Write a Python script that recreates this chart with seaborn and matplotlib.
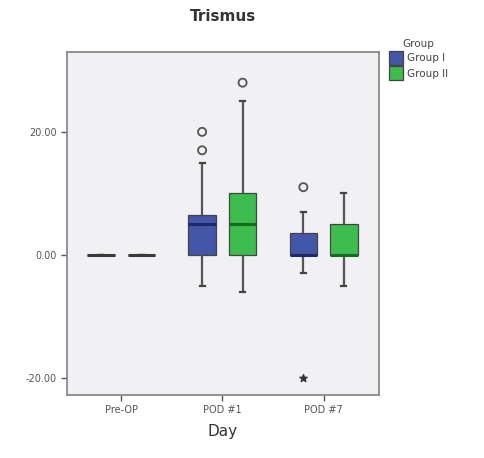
import numpy as np
import pandas as pd
import matplotlib
matplotlib.use("Agg")
import matplotlib.pyplot as plt
import seaborn as sns

days = ["Pre-OP", "POD #1", "POD #7"]
groups = ["Group I", "Group II"]

g1_preop = [0] * 21
g2_preop = [0] * 21
g1_pod1 = [-5, -2, 0, 0, 0, 0, 2, 3, 4, 5, 5, 5, 5, 6, 6, 6.5, 7, 10, 15, 17, 20]
g2_pod1 = [-6, -3, 0, 0, 0, 0, 2, 3, 4, 5, 5, 5, 5, 7, 8, 10, 12, 15, 20, 25, 28]
g1_pod7 = [-20, -3, 0, 0, 0, 0, 0, 0, 0, 0, 0, 1, 2, 2, 3, 3.5, 4, 5, 6, 7, 11]
g2_pod7 = [-5, -3, 0, 0, 0, 0, 0, 0, 0, 0, 0, 1, 2, 3, 4, 5, 5, 6, 8, 9, 10]

yticks = [-20, 0, 20]
ytick_labels = ["-20.00", "0.00", "20.00"]

series = {
    ("Pre-OP", "Group I"): g1_preop, ("Pre-OP", "Group II"): g2_preop,
    ("POD #1", "Group I"): g1_pod1, ("POD #1", "Group II"): g2_pod1,
    ("POD #7", "Group I"): g1_pod7, ("POD #7", "Group II"): g2_pod7,
}
rows = []
for (d, g), vals in series.items():
    for v in vals:
        rows.append({"Day": d, "Group": g, "Trismus": v})
df = pd.DataFrame(rows)

colors = {"Group I": "#4356a8", "Group II": "#3dbd4d"}
median_colors = {"Group I": "#1d2a66", "Group II": "#156b22"}

fig = plt.figure(figsize=(4.85, 4.58), dpi=100)
ax = fig.add_axes([0.138, 0.1376, 0.643, 0.749])
ax.set_facecolor("#f1f0f2")

sns.boxplot(data=df, x="Day", y="Trismus", hue="Group", order=days,
            hue_order=groups, palette=colors, width=0.8, gap=0.32,
            showfliers=False, linecolor="#444444", linewidth=0.9,
            whis=1.5, saturation=1, ax=ax, capwidths=0.05,
            whiskerprops={"color": "#555555", "linewidth": 1.6},
            capprops={"color": "#444444", "linewidth": 1.6},
            medianprops={"linewidth": 2.2},
            legend=True)

for cont, g in zip(ax.containers, groups):
    for d, m in zip(days, cont.medians):
        v = np.array(series[(d, g)], dtype=float)
        q1, q3 = np.percentile(v, [25, 75])
        m.set_color(median_colors[g] if q3 > q1 else "#3a3a3a")

# outliers / extremes
offsets = {"Group I": -0.2, "Group II": 0.2}
for i, d in enumerate(days):
    for g in groups:
        v = np.array(series[(d, g)], dtype=float)
        q1, q3 = np.percentile(v, [25, 75])
        iqr = q3 - q1
        if iqr == 0:
            continue
        out = v[((v > q3 + 1.5 * iqr) & (v <= q3 + 3 * iqr)) | ((v < q1 - 1.5 * iqr) & (v >= q1 - 3 * iqr))]
        ext = v[(v > q3 + 3 * iqr) | (v < q1 - 3 * iqr)]
        ax.scatter(np.full(len(out), i + offsets[g]), out, s=34, facecolors="none",
                   edgecolors="#555555", linewidths=1.3, zorder=5)
        ax.scatter(np.full(len(ext), i + offsets[g]), ext, s=30, marker="*",
                   color="#333333", zorder=5)

ax.set_xlim(-0.535, 2.545)
ax.set_ylim(-22.8, 33.0)
ax.set_yticks(yticks)
ax.set_yticklabels(ytick_labels)
ax.tick_params(axis="both", labelsize=7, colors="#555555", length=4, width=1)
ax.set_ylabel("")
ax.set_xlabel("Day", fontsize=11, color="#333333", labelpad=6)
ax.set_title("Trismus", fontsize=11, color="#333333", pad=22, fontweight="bold")
for s in ax.spines.values():
    s.set_color("#8a8a8a")
    s.set_linewidth(1.3)

leg = ax.legend(title="Group", loc="upper left", bbox_to_anchor=(1.02, 1.05),
                frameon=False, fontsize=7.5, title_fontsize=7.5,
                handlelength=1.3, handleheight=1.7, handletextpad=0.4,
                borderaxespad=0, labelspacing=0.15)
for t in leg.get_texts():
    t.set_color("#444444")
leg.get_title().set_color("#444444")

fig.savefig("out.png", dpi=100)
